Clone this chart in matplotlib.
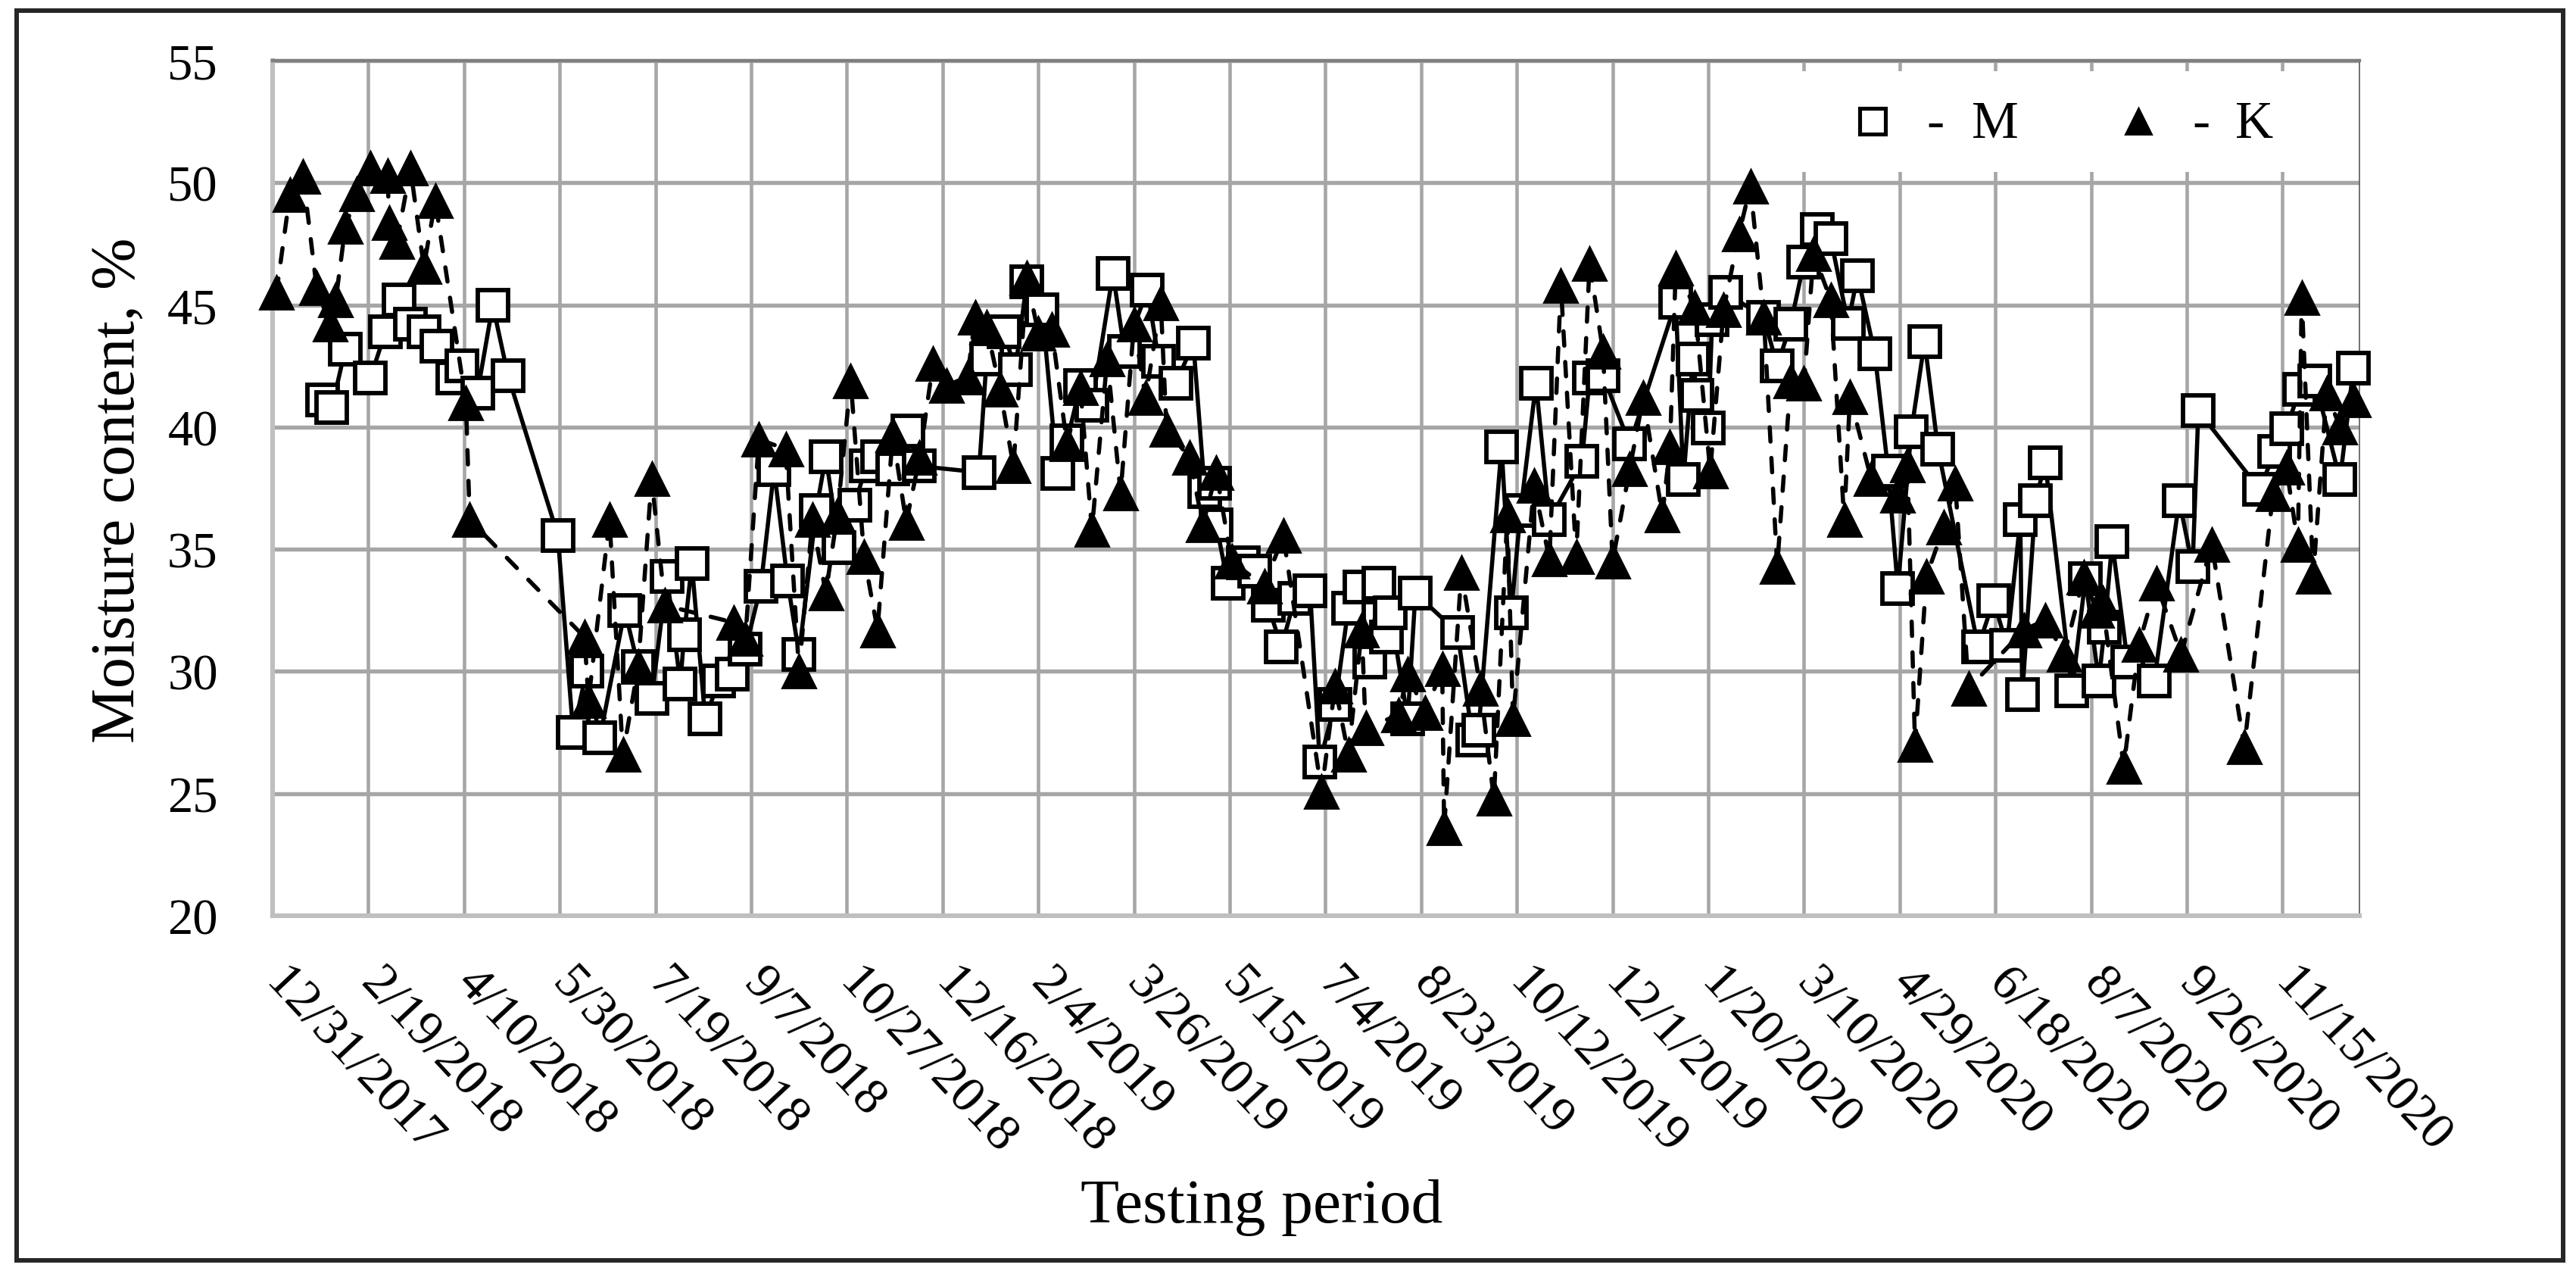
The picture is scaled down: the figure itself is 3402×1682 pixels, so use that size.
import matplotlib
matplotlib.use("Agg")
import matplotlib.pyplot as plt
from matplotlib.lines import Line2D
from matplotlib.patches import Rectangle

plt.rcParams['font.family'] = ['Liberation Serif', 'DejaVu Serif']

W, H = 3402, 1683

#days counted from 12/31/2017
m_days = [26, 31, 38, 51, 59, 66, 72, 79, 86, 94, 99, 107, 115, 123, 149, 157, 164, 171, 184, 191,
          198, 206, 213, 215, 219, 226, 233, 240, 247, 255, 262, 269, 275, 284, 289, 296, 304, 310, 316, 324,
          332, 338, 369, 373, 382, 388, 394, 402, 410, 415, 422, 428, 439, 445, 457, 463, 472, 481, 487, 492,
          493, 499, 507, 513, 520, 527, 534, 542, 547, 555, 562, 568, 573, 578, 582, 584, 593, 597, 619, 627,
          630, 642, 647, 652, 660, 667, 684, 688, 695, 709, 733, 737, 742, 744, 750, 752, 759, 779, 786, 793,
          800, 807, 814, 823, 828, 837, 844, 849, 856, 863, 870, 891, 899, 906, 913, 914, 921, 926, 940, 947,
          954, 957, 961, 969, 983, 996, 1003, 1006, 1038, 1046, 1052, 1059, 1067, 1080, 1087]
m_values = [41.1, 40.8, 43.2, 42.0, 43.9, 45.2, 44.2, 43.9, 43.3, 42.0, 42.5, 41.4, 45.0, 42.1, 35.57, 27.5, 30.0, 27.3, 32.5, 30.2,
            28.9, 33.9, 29.5, 31.5, 34.4, 28.05, 29.6, 29.9, 30.9, 33.47, 38.25, 33.7, 30.7, 36.6, 38.8, 35.07, 36.8, 38.4, 38.8, 38.3,
            39.85, 38.4, 38.15, 42.8, 43.9, 42.35, 45.95, 44.8, 38.1, 39.45, 41.7, 40.9, 46.3, 43.1, 45.6, 42.7, 41.8, 43.45, 37.35, 37.7,
            36.0, 33.6, 34.45, 34.1, 32.7, 31.0, 33.0, 33.3, 26.3, 28.65, 32.6, 33.45, 30.4, 33.6, 31.4, 32.4, 28.05, 33.2, 31.6, 27.2,
            27.6, 39.2, 32.4, 36.6, 41.8, 36.2, 38.6, 42.0, 42.1, 39.3, 45.1, 37.85, 42.8, 41.3, 39.95, 44.4, 45.5, 44.5, 42.5, 44.2,
            46.75, 48.1, 47.7, 44.25, 46.2, 43.0, 38.2, 33.4, 39.8, 43.5, 39.1, 31.0, 32.9, 31.06, 36.2, 29.05, 37.0, 38.55, 29.2, 33.8,
            29.6, 31.8, 35.3, 30.4, 29.6, 37.0, 34.3, 40.67, 37.45, 39.0, 39.93, 41.55, 41.88, 37.85, 42.4]

k_days = [2, 9, 16, 23, 30, 33, 38, 44, 51, 60, 61, 65, 72, 79, 85, 101, 103, 163, 165, 176,
          183, 191, 198, 205, 241, 247, 254, 268, 275, 282, 289, 295, 302, 309, 316, 324, 331, 338, 345, 352,
          363, 367, 373, 380, 387, 394, 400, 407, 415, 422, 428, 436, 443, 450, 456, 464, 467, 479, 486, 493,
          501, 518, 528, 548, 555, 562, 569, 571, 588, 593, 602, 611, 612, 621, 631, 638, 645, 648, 659, 667,
          673, 681, 688, 695, 700, 709, 716, 726, 730, 733, 743, 751, 758, 766, 772, 779, 786, 793, 800, 805,
          814, 821, 824, 835, 849, 854, 858, 864, 873, 879, 886, 915, 926, 936, 946, 953, 956, 967, 975, 984,
          997, 1013, 1030, 1045, 1052, 1058, 1060, 1066, 1073, 1080, 1087]
k_values = [45.5, 49.5, 50.25, 45.7, 44.2, 45.2, 48.2, 49.55, 50.6, 50.3, 48.36, 47.6, 50.6, 46.56, 49.25, 41.0, 36.2, 31.4, 28.8, 36.2,
            26.6, 30.2, 37.9, 32.7, 32.0, 31.35, 39.5, 39.1, 30.0, 36.2, 33.2, 36.4, 41.9, 34.7, 31.7, 39.7, 36.1, 38.75, 42.6, 41.7,
            42.05, 44.5, 44.1, 41.55, 38.4, 46.1, 43.85, 44.0, 39.3, 41.6, 35.8, 42.8, 37.3, 44.2, 41.2, 45.07, 39.9, 38.75, 36.0, 38.15,
            34.5, 33.5, 35.55, 25.07, 29.4, 26.6, 31.7, 27.7, 28.2, 29.9, 28.3, 30.1, 23.6, 34.05, 29.3, 24.8, 36.4, 28.05, 37.6, 34.6,
            45.8, 34.7, 46.7, 43.1, 34.5, 38.3, 41.2, 36.4, 39.2, 46.5, 44.9, 38.2, 44.8, 47.9, 49.85, 44.5, 34.3, 41.9, 41.8, 47.1,
            45.2, 36.2, 41.25, 37.9, 37.2, 38.45, 27.0, 33.9, 35.9, 37.7, 29.3, 31.7, 32.1, 30.7, 33.85, 32.5, 32.8, 26.1, 31.1, 33.6,
            30.7, 35.2, 26.9, 37.26, 38.35, 35.2, 45.3, 33.9, 41.4, 40.0, 41.1]

tick_labels = ['12/31/2017', '2/19/2018', '4/10/2018', '5/30/2018', '7/19/2018', '9/7/2018', '10/27/2018',
               '12/16/2018', '2/4/2019', '3/26/2019', '5/15/2019', '7/4/2019', '8/23/2019', '10/12/2019',
               '12/1/2019', '1/20/2020', '3/10/2020', '4/29/2020', '6/18/2020', '8/7/2020', '9/26/2020', '11/15/2020']
y_ticks = [20, 25, 30, 35, 40, 45, 50, 55]


def fx(px):
    return px / W


def fy(px):
    return 1 - px / H


fig = plt.figure(figsize=(W / 100, H / 100), dpi=100)
ax = fig.add_axes([fx(360), fy(1210), fx(3115.6 - 360), (1210 - 81) / H])

ax.set_xlim(0, 1090)
ax.set_ylim(20, 55)
ax.set_xticks([i * 50 for i in range(len(tick_labels))])
ax.set_xticklabels(tick_labels, rotation=-47, ha='left', va='center', rotation_mode='anchor', fontsize=49)
ax.set_yticks(y_ticks)
ax.tick_params(axis='x', length=0, pad=57)
ax.tick_params(axis='y', length=0, pad=52, labelsize=48)

ax.set_axisbelow(True)
ax.grid(True, axis='x', color='#A6A6A6', lw=3.3)
ax.grid(True, axis='y', color='#A6A6A6', lw=3.9)

for side in ['left', 'bottom']:
    ax.spines[side].set_color('#BFBFBF')
    ax.spines[side].set_linewidth(4.4)
ax.spines['top'].set_color('#7F7F7F')
ax.spines['top'].set_linewidth(3.2)
ax.spines['right'].set_color('#595959')
ax.spines['right'].set_linewidth(1.2)

#the legend box hides the vertical grid lines behind it
ax.add_patch(Rectangle((770, 50.44), 319, 4.13, facecolor='white', edgecolor='none', zorder=1))

ax.plot(m_days, m_values, color='black', lw=4.0, marker='s', ms=29, mfc='white', mec='black', mew=4.2,
        clip_on=False, zorder=3)
ax.plot(k_days, k_values, color='black', lw=4.0, linestyle=(0, (3.4, 3.9)), dash_capstyle='round', marker='^',
        ms=32, mfc='black', mec='black', mew=2.0, clip_on=False, zorder=4)

fig.text(fx(157), fy(647), 'Moisture content, %', rotation=90, fontsize=59, ha='center', va='center')
fig.text(fx(1666), fy(1594), 'Testing period', fontsize=60, ha='center', va='center')

#legend
fig.add_artist(Line2D([fx(2473)], [fy(161)], transform=fig.transFigure, marker='s', ms=24, mfc='white', mec='black', mew=3.7))
fig.add_artist(Line2D([fx(2824)], [fy(161)], transform=fig.transFigure, marker='^', ms=25, mfc='black', mec='black', mew=2))
fig.text(fx(2544), fy(182), '-', fontsize=50, ha='left', va='baseline')
fig.text(fx(2604), fy(182), 'M', fontsize=50, ha='left', va='baseline')
fig.text(fx(2895), fy(182), '-', fontsize=50, ha='left', va='baseline')
fig.text(fx(2952), fy(182), 'K', fontsize=50, ha='left', va='baseline')

#outer frame
fig.add_artist(Rectangle((fx(22), fy(1665)), fx(3385 - 22), (1665 - 15) / H, transform=fig.transFigure,
                         facecolor='none', edgecolor='#262626', lw=4.3))

fig.savefig('out.png', dpi=100, facecolor='white')
